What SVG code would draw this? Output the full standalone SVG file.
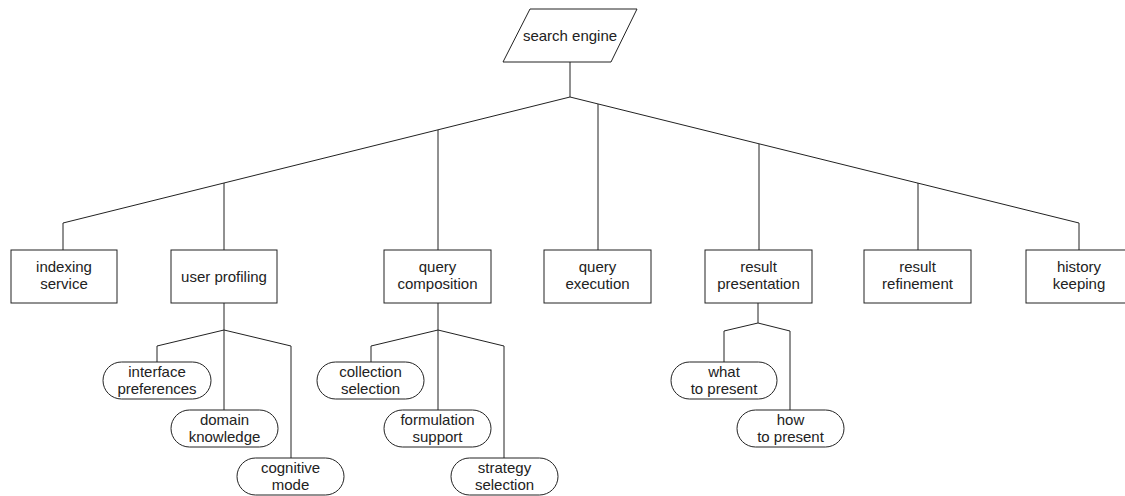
<svg xmlns="http://www.w3.org/2000/svg" width="1125" height="496" viewBox="0 0 1125 496">
<style>
.s{fill:#fff;stroke:#222;stroke-width:1}
.c{fill:none;stroke:#222;stroke-width:1}
text{font-family:"Liberation Sans",Arial,sans-serif;font-size:15px;fill:#222;text-anchor:middle}
</style>
<rect width="1125" height="496" fill="#fff"/>
<g id="connectors" class="c">
<path d="M570,62V97"/>
<path d="M570,97L63,223V250"/>
<path d="M570,97L1079,223V250"/>
<path d="M224,183V250"/>
<path d="M438,130V250"/>
<path d="M598,104V250"/>
<path d="M759,144V250"/>
<path d="M918,183V250"/>
<path d="M224,303V330"/>
<path d="M224,330L157,346V362"/>
<path d="M224,330V410"/>
<path d="M224,330L291,346V458"/>
<path d="M438,303V330"/>
<path d="M438,330L371,346V362"/>
<path d="M438,330V410"/>
<path d="M438,330L504,346V458"/>
<path d="M758,303V323"/>
<path d="M758,323L724,331V362"/>
<path d="M758,323L790,331V410"/>
</g>
<g id="search-engine"><polygon class="s" points="530,9 637,9 611,62 503,62"/><text x="570" y="41">search engine</text></g>
<g id="indexing-service"><rect class="s" x="11" y="250" width="106" height="53"/><text x="64" y="272">indexing</text><text x="64" y="289">service</text></g>
<g id="user-profiling"><rect class="s" x="171" y="250" width="106" height="53"/><text x="224" y="282">user profiling</text></g>
<g id="query-composition"><rect class="s" x="384" y="250" width="107" height="53"/><text x="437.5" y="272">query</text><text x="437.5" y="289">composition</text></g>
<g id="query-execution"><rect class="s" x="544" y="250" width="107" height="53"/><text x="597.5" y="272">query</text><text x="597.5" y="289">execution</text></g>
<g id="result-presentation"><rect class="s" x="705" y="250" width="107" height="53"/><text x="758.5" y="272">result</text><text x="758.5" y="289">presentation</text></g>
<g id="result-refinement"><rect class="s" x="864" y="250" width="107" height="53"/><text x="917.5" y="272">result</text><text x="917.5" y="289">refinement</text></g>
<g id="history-keeping"><rect class="s" x="1026" y="250" width="107" height="53"/><text x="1079" y="272">history</text><text x="1079" y="289">keeping</text></g>
<g id="interface-preferences"><rect class="s" x="103" y="362" width="108" height="37" rx="18.5"/><text x="157" y="377">interface</text><text x="157" y="394">preferences</text></g>
<g id="domain-knowledge"><rect class="s" x="171" y="410" width="107" height="37" rx="18.5"/><text x="224.5" y="425">domain</text><text x="224.5" y="442">knowledge</text></g>
<g id="cognitive-mode"><rect class="s" x="237" y="458" width="107" height="37" rx="18.5"/><text x="290.5" y="473">cognitive</text><text x="290.5" y="490">mode</text></g>
<g id="collection-selection"><rect class="s" x="317" y="362" width="107" height="37" rx="18.5"/><text x="370.5" y="377">collection</text><text x="370.5" y="394">selection</text></g>
<g id="formulation-support"><rect class="s" x="384" y="410" width="107" height="37" rx="18.5"/><text x="437.5" y="425">formulation</text><text x="437.5" y="442">support</text></g>
<g id="strategy-selection"><rect class="s" x="451" y="458" width="107" height="37" rx="18.5"/><text x="504.5" y="473">strategy</text><text x="504.5" y="490">selection</text></g>
<g id="what-to-present"><rect class="s" x="671" y="362" width="106" height="37" rx="18.5"/><text x="724" y="377">what</text><text x="724" y="394">to present</text></g>
<g id="how-to-present"><rect class="s" x="737" y="410" width="107" height="37" rx="18.5"/><text x="790.5" y="425">how</text><text x="790.5" y="442">to present</text></g>
</svg>
